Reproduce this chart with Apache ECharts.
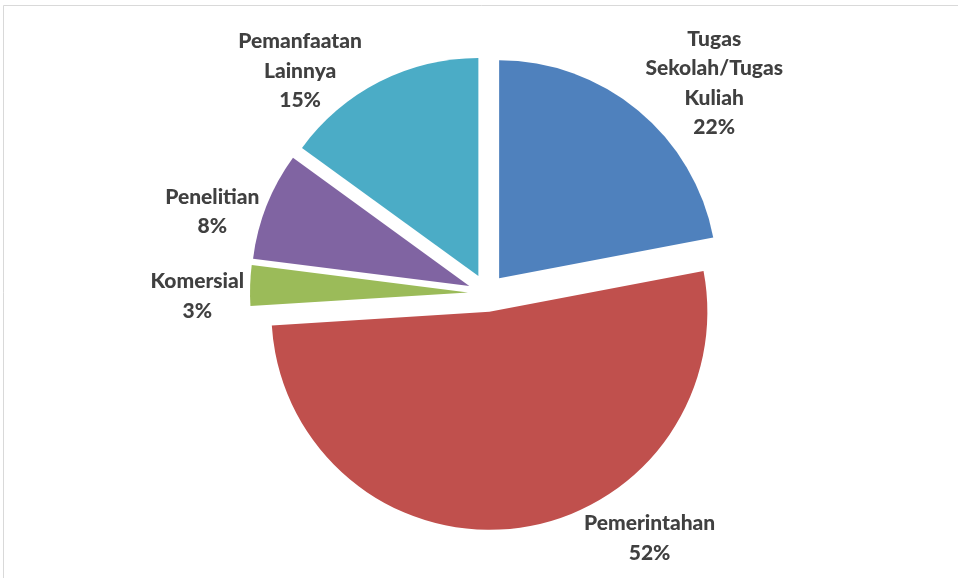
<!DOCTYPE html>
<html>
<head>
<meta charset="utf-8">
<script src="https://cdn.jsdelivr.net/npm/echarts@6/dist/echarts.min.js"></script>
<style>
  html, body { margin: 0; padding: 0; background: #fff; }
  #pie-chart { width: 958px; height: 578px; }
</style>
</head>
<body>
<div id="pie-chart"></div>
<script>
// kategori pemanfaatan data (urutan searah jarum jam dari atas)
var categories = [
  "Tugas\nSekolah/Tugas\nKuliah",
  "Pemerintahan",
  "Komersial",
  "Penelitian",
  "Pemanfaatan\nLainnya"
];
var percentValues = [22, 52, 3, 8, 15];
var sliceColors = ["#4F81BD", "#C0504D", "#9BBB59", "#8064A2", "#4BACC6"];

// posisi label tiap irisan (panjang garis label, disembunyikan)
var labelLen = [35, 10, 0, -16, 12];
var labelLen2 = [-20, 61, 1, 17, 7];
var labelPadTop = [0, 0, 21, 0, 0];

var chart = echarts.init(document.getElementById("pie-chart"));

var option = {
  backgroundColor: "#fff",
  animation: false,
  graphic: [
    {
      type: "rect",
      shape: { x: 3.5, y: 5.5, width: 1000, height: 1000 },
      style: { fill: "none", stroke: "#d9d9d9", lineWidth: 1 },
      silent: true
    }
  ],
  series: [
    {
      type: "pie",
      center: [487, 293],
      radius: 218,
      startAngle: 90,
      clockwise: true,
      selectedMode: "multiple",
      selectedOffset: 19,
      avoidLabelOverlap: false,
      silent: true,
      itemStyle: { borderWidth: 0 },
      label: {
        show: true,
        position: "outside",
        distanceToLabelLine: 5,
        fontFamily: "Lato",
        fontWeight: 900,
        fontSize: 21,
        color: "#404040",
        formatter: function (p) {
          var lines = p.name.split("\n").concat([p.value + "%"]);
          return lines.map(function (s) { return "{c|" + s + "}"; }).join("\n");
        },
        rich: {
          c: {
            align: "center",
            fontFamily: "Lato",
            fontWeight: 900,
            fontSize: 21,
            lineHeight: 29.5,
            color: "#404040"
          }
        }
      },
      labelLine: { show: false },
      data: categories.map(function (name, i) {
        return {
          name: name,
          value: percentValues[i],
          selected: true,
          itemStyle: { color: sliceColors[i] },
          label: { padding: [labelPadTop[i], 0, 0, 0] },
          labelLine: { show: false, length: labelLen[i], length2: labelLen2[i] },
          select: { itemStyle: { color: sliceColors[i] } }
        };
      })
    }
  ]
};

chart.setOption(option);
</script>
</body>
</html>
